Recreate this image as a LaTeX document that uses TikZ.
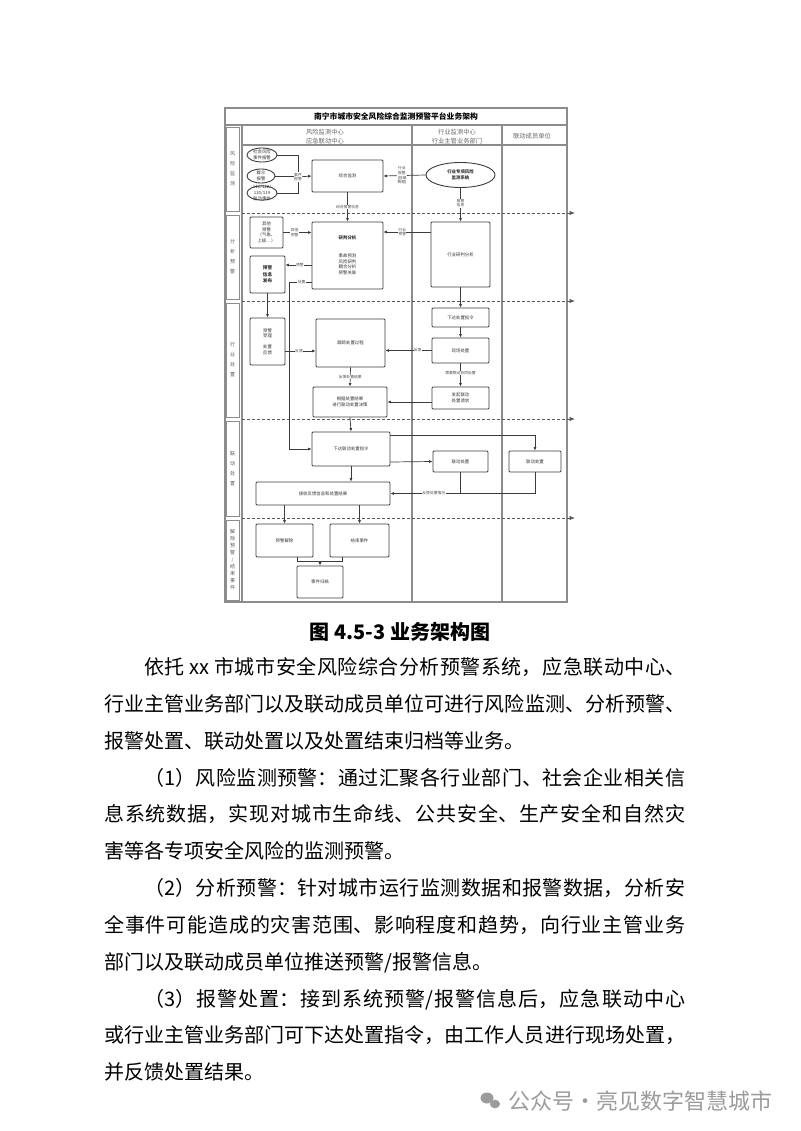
\documentclass[tikz,border=0pt]{standalone}
\usepackage{fontspec}
\setmainfont{Noto Sans CJK SC}
\XeTeXlinebreaklocale "zh"
\XeTeXlinebreakskip=0pt plus 3pt
\usepackage{xcolor}
\usepackage{tikz}
\usetikzlibrary{calc, shapes.geometric, arrows.meta, positioning}
\definecolor{lanegray}{RGB}{140,140,140}
\definecolor{boxdark}{RGB}{60,60,60}
\definecolor{wmgray}{RGB}{155,155,155}

\begin{document}
\begin{tikzpicture}[
        x=1pt, y=-1pt,
        box/.style = {draw=boxdark, rectangle, rounded corners=1pt, align=center, line width=0.9pt, inner sep=1pt, font=\fontsize{4.4}{5.6}\selectfont, text=black!80},
        keybox/.style = {box, font=\fontsize{4.6}{6.4}\selectfont\bfseries},
        ovalbox/.style = {box, ellipse, inner sep=-1pt},
        tag/.style = {fill=white, inner sep=0.4pt, align=center, font=\fontsize{3.8}{4.8}\selectfont, text=black!70},
        arrow/.style = {draw=boxdark, line width=0.7pt, -{Latex[length=3.4pt, width=3pt]}},
        link/.style = {draw=boxdark, line width=0.7pt},
        laneline/.style = {draw=lanegray, line width=1.3pt},
        rowsplit/.style = {draw=black!65, line width=0.8pt, dash pattern=on 3pt off 2pt, -{Latex[length=5.5pt, width=4.5pt]}},
        header/.style = {align=center, font=\fontsize{6.3}{8.6}\selectfont, text=black!60},
        rowlabel/.style = {draw=lanegray, line width=0.9pt, minimum width=13pt, align=center, inner sep=0pt, font=\fontsize{5}{10}\selectfont, text=black!65},
        bodytext/.style = {anchor=base west, inner sep=0pt, align=justify, text width=581pt, font=\fontsize{20}{36.8}\selectfont}
    ]
        \useasboundingbox (0,0) rectangle (800,1131);

        % Frame and lanes
        \draw [laneline] (225,108) rectangle (567,602);
        \draw [laneline] (225,125) -- (567,125);
        \draw [laneline] (242,145) -- (567,145);
        \draw [laneline] (242,125) -- (242,602);
        \draw [laneline] (412,125) -- (412,602);
        \draw [laneline] (502,125) -- (502,602);

        % Title and column headers
        \node (title) [font=\fontsize{7.8}{9}\selectfont\bfseries] at (396,116.5) {南宁市城市安全风险综合监测预警平台业务架构};
        \node (hdrcenter) [header] at (325,136.5) {风险监测中心\\应急联动中心};
        \node (hdrtrade) [header] at (457,136.5) {行业监测中心\\行业主管业务部门};
        \node (hdrmember) [header] at (532,136.5) {联动成员单位};

        % Row labels
        \node (rowmon) [rowlabel, minimum height=84pt] at (232.5,169) {风\\险\\监\\测};
        \node (rowana) [rowlabel, minimum height=84pt] at (232.5,257) {分\\析\\预\\警};
        \node (rowtrade) [rowlabel, minimum height=114pt] at (232.5,360) {行\\业\\处\\置};
        \node (rowlink) [rowlabel, minimum height=95pt] at (232.5,468.5) {联\\动\\处\\置};
        \node (rowend) [rowlabel, minimum height=80pt, font=\fontsize{5}{7}\selectfont] at (232.5,560) {解\\除\\预\\警\\/\\结\\束\\事\\件};

        % Row separators
        \draw [rowsplit] (242,213) -- (575,213);
        \draw [rowsplit] (242,301) -- (575,301);
        \draw [rowsplit] (242,419) -- (575,419);
        \draw [rowsplit] (242,518) -- (575,518);

        % Risk monitoring
        \node (social) [ovalbox, minimum width=30pt, minimum height=14pt] at (262,155) {社会风险\\事件报警};
        \node (crowd) [ovalbox, minimum width=28pt, minimum height=14pt] at (261,176) {群众\\报警};
        \node (hotline) [ovalbox, inner sep=-2.5pt, minimum width=30pt, minimum height=14pt] at (262,193) {110/122/\\120/119\\联动事件};
        \node (monitor) [box, minimum width=71pt, minimum height=32pt] at (347.5,176) {综合监测};
        \node (special) [ovalbox, minimum width=69pt, minimum height=25pt] at (460.5,175) {\bfseries 行业专项风险\\\bfseries 监测系统};
        \coordinate (join) at (298,177);

        % Analysis and early warning
        \node (other) [box, minimum width=33pt, minimum height=31pt] at (266.5,232.5) {其他\\预警\\（气象、\\上级…）};
        \node (judge) [box, minimum width=71pt, minimum height=67pt] at (347.5,255.5) {\textbf{研判分析}\\[12pt]事故预测\\风险研判\\耦合分析\\预警关联};
        \node (publish) [keybox, minimum width=35pt, minimum height=37pt] at (267.5,274.5) {预警\\信息\\发布};
        \node (tradejudge) [box, minimum width=59pt, minimum height=65pt] at (460.5,254.5) {行业研判分析};

        % Trade handling
        \node (accept) [box, minimum width=35pt, minimum height=47pt] at (267.5,341.5) {预警\\受理\\[5pt]处置\\反馈};
        \node (track) [box, minimum width=69pt, minimum height=48pt] at (350.5,343) {跟踪处置过程};
        \node (decide) [box, minimum width=74pt, minimum height=30pt] at (350,402) {根据处置结果\\进行联动处置决策};
        \node (order) [box, minimum width=57pt, minimum height=19pt] at (460.5,317.5) {下达处置指令};
        \node (onsite) [box, minimum width=57pt, minimum height=25pt] at (460.5,350.5) {现场处置};
        \node (request) [box, minimum width=57pt, minimum height=22pt] at (460.5,398) {发起联动\\处置请求};

        % Linked handling
        \node (linkorder) [box, minimum width=78pt, minimum height=34pt] at (351,449) {下达联动处置指令};
        \node (linktrade) [box, minimum width=55pt, minimum height=21pt] at (460.5,461.5) {联动处置};
        \node (linkmember) [box, minimum width=52pt, minimum height=21pt] at (535,461.5) {联动处置};
        \node (receive) [box, minimum width=134pt, minimum height=23pt] at (323,493.5) {接收反馈信息和处置结果};

        % Release and close
        \node (release) [box, minimum width=57pt, minimum height=33pt] at (284.5,540.5) {预警解除};
        \node (close) [box, minimum width=59pt, minimum height=33pt] at (359.5,540.5) {结束事件};
        \node (archive) [box, minimum width=46pt, minimum height=32pt] at (320,582) {事件归档};

        % Connections
        \draw [link] (social.east) -| (join);
        \draw [link] (hotline.east) -| (join);
        \draw [link] (crowd.east) -- (crowd.east -| join);
        \draw [arrow] (join) node [tag] {事件\\报警} -- (monitor.west);
        \draw [arrow] (special.west) -- node [tag, pos=0.56] {行业\\报警\\(前端\\数据)} (monitor.east);
        \draw [arrow] (monitor.south) -- node [tag] {综合报警信息} (judge.north);
        \draw [arrow] (special.south) -- node [tag, pos=0.45] {报警\\信息} (tradejudge.north);

        \draw [arrow] (other.east) -- node [tag, pos=0.4] {其他\\预警} (other.east -| judge.west);
        \draw [arrow] ($(judge.west)+(0,9.5)$) -- node [tag, pos=0.45] {预警} ($(publish.east)+(0,-9.5)$);
        \draw [arrow] ($(judge.west)+(0,26.5)$) -- node [tag, pos=0.45] {处置} ++(-22,0) |- (linkorder.west);
        \draw [arrow] ($(tradejudge.west)+(0,-22.5)$) -- node [tag, pos=0.6] {行业\\预警} ($(judge.east)+(0,-23.5)$);
        \draw [arrow] (publish.south) -- (accept.north);
        \draw [arrow] (tradejudge.south) -- (order.north);

        \draw [arrow] ($(accept.east)+(0,9.5)$) -- node [tag, pos=0.45] {反馈} ($(track.west)+(0,8)$);
        \draw [arrow] (onsite.west) -- node [tag, pos=0.3] {反馈} ($(track.east)+(0,7.5)$);
        \draw [arrow] (track.south) -- node [tag] {反馈处置结果} (decide.north);
        \draw [arrow] (order.south) -- (onsite.north);
        \draw [arrow] (onsite.south) -- node [tag, pos=0.4] {需要联动协同处置} (request.north);
        \draw [arrow] ($(request.west)+(0,4)$) -- (decide.east);

        \draw [arrow] (decide.south) -- (linkorder.north);
        \draw [arrow] ($(linkorder.east)+(0,-14)$) -| (linkmember.north);
        \draw [arrow] ($(linkorder.east)+(0,13)$) -- (linktrade.west);
        \draw [arrow] (linkorder.south) -- (linkorder.south |- receive.north);
        \draw [link] (linktrade.south) -- (linktrade.south |- receive.east);
        \draw [arrow] (linkmember.south) |- node [tag, pos=0.85] {反馈处置情况} (receive.east);

        \draw [arrow] (receive.south -| release.north) -- (release.north);
        \draw [arrow] (receive.south -| close.north) -- (close.north);
        \draw [link] ($(release.south)+(12.5,0)$) -- ++(0,4) -| ($(close.south)+(-17.5,0)$);
        \draw [arrow] ($(archive.north)+(0,-5)$) -- (archive.north);

        % Caption and text
        \node (caption) [font=\fontsize{20}{24}\selectfont\bfseries] at (400,632) {图 4.5-3 业务架构图};
        \node (para0) [bodytext] at (104,674.5) {\hspace*{2em}依托 xx 市城市安全风险综合分析预警系统，应急联动中心、\linebreak 行业主管业务部门以及联动成员单位可进行风险监测、分析预警、\linebreak 报警处置、联动处置以及处置结束归档等业务。};
        \node (para1) [bodytext] at (104,785) {\hspace*{2em}（1）风险监测预警：通过汇聚各行业部门、社会企业相关信\linebreak 息系统数据，实现对城市生命线、公共安全、生产安全和自然灾\linebreak 害等各专项安全风险的监测预警。};
        \node (para2) [bodytext] at (104,895.5) {\hspace*{2em}（2）分析预警：针对城市运行监测数据和报警数据，分析安\linebreak 全事件可能造成的灾害范围、影响程度和趋势，向行业主管业务\linebreak 部门以及联动成员单位推送预警/报警信息。};
        \node (para3) [bodytext] at (104,1006) {\hspace*{2em}（3）报警处置：接到系统预警/报警信息后，应急联动中心\linebreak 或行业主管业务部门可下达处置指令，由工作人员进行现场处置，\linebreak 并反馈处置结果。};

        % Watermark
        \fill [wmgray] (487,1098) ellipse (6.5 and 5.5);
        \fill [wmgray] (495,1104) ellipse (5 and 4.3);
        \node (wmark) [anchor=east, text=wmgray, font=\fontsize{22}{26}\selectfont] at (776,1101) {公众号·亮见数字智慧城市};

    \end{tikzpicture}
\end{document}
